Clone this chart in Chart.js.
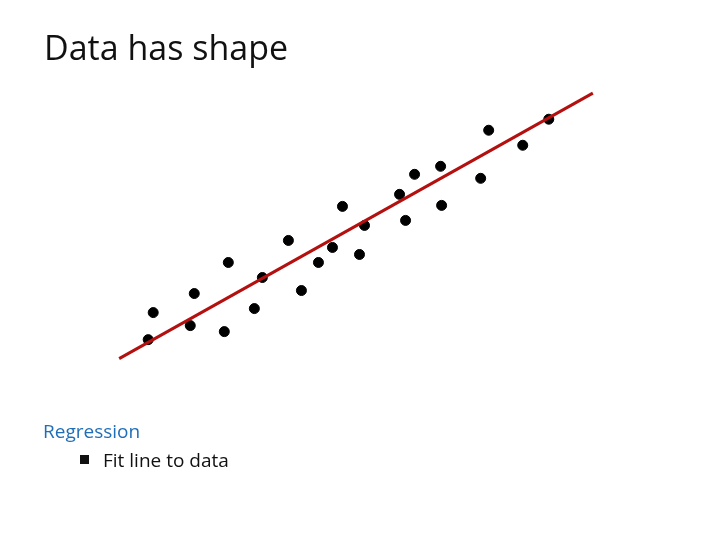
<!DOCTYPE html>
<html>
<head>
<meta charset="utf-8">
<script src="https://cdn.jsdelivr.net/npm/chart.js@4/dist/chart.umd.min.js"></script>
<style>
  body { margin: 0; width: 720px; height: 540px; background: #fff; position: relative; overflow: hidden; font-family: "Open Sans", "Noto Sans", sans-serif; }
  #wrap { position: absolute; left: 0; top: 0; width: 720px; height: 540px; }
  #title { position: absolute; left: 44px; top: 24px; font-size: 34px; color: #111; }
  #sub { position: absolute; left: 43px; top: 418px; font-size: 19px; color: #1f6fb8; }
  #item { position: absolute; left: 103px; top: 447px; font-size: 19px; color: #111; }
  #bullet { position: absolute; left: 80px; top: 455px; width: 9px; height: 9px; background: #111; }
</style>
</head>
<body>
<div id="wrap"><canvas id="myChart"></canvas></div>
<div id="title">Data has shape</div>
<div id="sub">Regression</div>
<div id="bullet"></div>
<div id="item">Fit line to data</div>
<script>
// scatter points (x, y)
var px = [148, 153, 190, 194, 224, 228, 254, 262, 288, 301, 318, 332, 342, 359, 364, 399, 405, 414, 440, 441, 480, 488, 522, 548];
var py = [200, 227, 214, 246, 208, 277, 231, 262, 299, 249, 277, 292, 333, 285, 314, 345, 319, 365, 373, 334, 361, 409, 394, 420];
// regression line end points
var lx = [119, 592];
var ly = [181, 446];

function toPoints(xs, ys) {
    var out = [];
    for (let i = 0; i < xs.length; i++) {
        out.push({x: xs[i], y: ys[i]});
    }
    return out;
}

var ctx = document.getElementById('myChart').getContext('2d');
var chart = new Chart(ctx, {
    type: 'scatter',
    data: {
        datasets: [
            {
                data: toPoints(lx, ly),
                showLine: true,
                borderColor: '#b3100f',
                borderWidth: 3,
                pointRadius: 0
            },
            {
                data: toPoints(px, py),
                backgroundColor: '#000',
                borderColor: '#000',
                pointRadius: 5
            }
        ]
    },
    options: {
        responsive: true,
        maintainAspectRatio: false,
        animation: false,
        layout: { padding: 0 },
        scales: {
            x: { display: false, min: 6, max: 713 },
            y: { display: false, min: 6, max: 533 }
        },
        plugins: { legend: { display: false }, tooltip: { enabled: false } }
    }
});
</script>
</body>
</html>
